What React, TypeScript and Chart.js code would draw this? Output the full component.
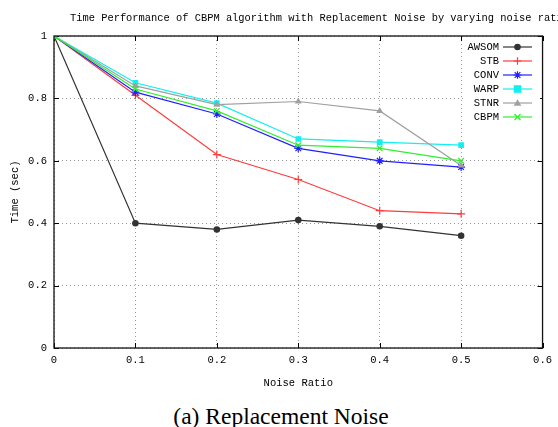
import React, { useEffect, useRef } from 'react';
import { Chart, registerables } from 'chart.js';
Chart.register(...registerables);

const titleText = 'Time Performance of CBPM algorithm with Replacement Noise by varying noise ratio';
const xTitle = 'Noise Ratio';
const yTitle = 'Time (sec)';
const caption = '(a) Replacement Noise';

const noiseRatios = [0, 0.1, 0.2, 0.3, 0.4, 0.5];
const awsom = [1, 0.4, 0.38, 0.41, 0.39, 0.36];
const stb = [1, 0.81, 0.62, 0.54, 0.44, 0.43];
const conv = [1, 0.82, 0.75, 0.64, 0.6, 0.58];
const warp = [1, 0.85, 0.785, 0.67, 0.66, 0.65];
const stnr = [1, 0.84, 0.78, 0.79, 0.76, 0.585];
const cbpm = [1, 0.83, 0.76, 0.65, 0.64, 0.6];

const seriesNames = ['AWSOM', 'STB', 'CONV', 'WARP', 'STNR', 'CBPM'];
const seriesValues = [awsom, stb, conv, warp, stnr, cbpm];
const seriesColors = ['#333333', '#ff3b3b', '#2020ff', '#10f0f0', '#a0a0a0', '#30ee30'];
const seriesMarkers = ['circle', 'cross', 'star', 'rect', 'triangle', 'crossRot'];
const seriesMarkerFill = [true, false, false, true, true, false];

const xTickValues = [0, 0.1, 0.2, 0.3, 0.4, 0.5, 0.6];
const yTickValues = [0, 0.2, 0.4, 0.6, 0.8, 1];

const MONO = '"Liberation Mono", "DejaVu Sans Mono", monospace';

function drawMarker(ctx: CanvasRenderingContext2D, style: string, x: number, y: number, r: number, color: string) {
  ctx.save();
  ctx.strokeStyle = color;
  ctx.fillStyle = color;
  ctx.lineWidth = 1.2;
  ctx.beginPath();
  if (style === 'circle') {
    ctx.arc(x, y, r, 0, Math.PI * 2);
    ctx.fill();
  } else if (style === 'rect') {
    ctx.fillRect(x - r, y - r, 2 * r, 2 * r);
  } else if (style === 'triangle') {
    ctx.moveTo(x, y - r);
    ctx.lineTo(x + r, y + r * 0.75);
    ctx.lineTo(x - r, y + r * 0.75);
    ctx.closePath();
    ctx.fill();
  } else if (style === 'cross') {
    ctx.moveTo(x - r, y); ctx.lineTo(x + r, y);
    ctx.moveTo(x, y - r); ctx.lineTo(x, y + r);
    ctx.stroke();
  } else if (style === 'crossRot') {
    const d = r * 0.8;
    ctx.moveTo(x - d, y - d); ctx.lineTo(x + d, y + d);
    ctx.moveTo(x + d, y - d); ctx.lineTo(x - d, y + d);
    ctx.stroke();
  } else if (style === 'star') {
    const d = r * 0.75;
    ctx.moveTo(x - r, y); ctx.lineTo(x + r, y);
    ctx.moveTo(x, y - r); ctx.lineTo(x, y + r);
    ctx.moveTo(x - d, y - d); ctx.lineTo(x + d, y + d);
    ctx.moveTo(x + d, y - d); ctx.lineTo(x - d, y + d);
    ctx.stroke();
  }
  ctx.restore();
}

const framePlugin = {
  id: 'frame',
  beforeDatasetsDraw(chart: any) {
    const { ctx, chartArea: a } = chart;
    ctx.save();
    ctx.fillStyle = '#000';
    ctx.font = `10.4px ${MONO}`;
    ctx.textAlign = 'left';
    ctx.textBaseline = 'middle';
    ctx.fillText(titleText, 70, 18);
    ctx.font = `10.5px ${MONO}`;
    ctx.textAlign = 'center';
    ctx.fillText(xTitle, (a.left + a.right) / 2, 383);
    ctx.save();
    ctx.translate(15, (a.top + a.bottom) / 2);
    ctx.rotate(-Math.PI / 2);
    ctx.fillText(yTitle, 0, 0);
    ctx.restore();
    const xs = chart.scales.x;
    const ys = chart.scales.y;
    ctx.strokeStyle = '#000';
    ctx.lineWidth = 1;
    ctx.beginPath();
    xTickValues.forEach((v) => {
      const px = Math.round(xs.getPixelForValue(v)) + 0.5;
      ctx.moveTo(px, a.bottom); ctx.lineTo(px, a.bottom - 5);
      ctx.moveTo(px, a.top); ctx.lineTo(px, a.top + 5);
    });
    yTickValues.forEach((v) => {
      const py = Math.round(ys.getPixelForValue(v)) + 0.5;
      ctx.moveTo(a.left, py); ctx.lineTo(a.left + 5, py);
      ctx.moveTo(a.right, py); ctx.lineTo(a.right - 5, py);
    });
    ctx.stroke();
    ctx.fillStyle = '#fff';
    ctx.fillRect(464, 39, 76, 84);
    ctx.restore();
  },
  afterDatasetsDraw(chart: any) {
    const { ctx, chartArea: a } = chart;
    ctx.save();
    ctx.strokeStyle = '#111';
    ctx.lineWidth = 1.3;
    ctx.strokeRect(a.left, a.top, a.right - a.left, a.bottom - a.top);
    ctx.font = `10.5px ${MONO}`;
    ctx.textAlign = 'right';
    ctx.textBaseline = 'middle';
    seriesNames.forEach((name, i) => {
      const y = 47 + i * 14;
      ctx.fillStyle = '#000';
      ctx.fillText(name, 499, y);
      ctx.strokeStyle = seriesColors[i];
      ctx.lineWidth = 1.2;
      ctx.beginPath();
      ctx.moveTo(503, y); ctx.lineTo(532, y);
      ctx.stroke();
      drawMarker(ctx, seriesMarkers[i], 517.5, y, seriesMarkers[i] === 'circle' ? 3.3 : 3.8, seriesColors[i]);
    });
    ctx.restore();
  },
};

export default function App() {
  const ref = useRef<HTMLCanvasElement | null>(null);
  useEffect(() => {
    if (!ref.current) return;
    const datasets = seriesNames.map((name, i) => ({
      label: name,
      data: noiseRatios.map((x, j) => ({ x, y: seriesValues[i][j] })),
      borderColor: seriesColors[i],
      backgroundColor: seriesMarkerFill[i] ? seriesColors[i] : 'transparent',
      pointBorderColor: seriesColors[i],
      pointBackgroundColor: seriesColors[i],
      pointStyle: seriesMarkers[i],
      pointRadius: seriesMarkers[i] === 'circle' ? 3.3 : 4,
      pointBorderWidth: seriesMarkerFill[i] ? 0 : 1.2,
      borderWidth: 1.2,
      tension: 0,
      fill: false,
      order: seriesNames.length - i,
    }));
    const chart = new Chart(ref.current, {
      type: 'line',
      data: { datasets },
      options: {
        animation: false,
        responsive: false,
        devicePixelRatio: 1,
        layout: { padding: { left: 0, right: 14, top: 36, bottom: 0 } },
        plugins: { legend: { display: false }, tooltip: { enabled: false }, title: { display: false } },
        scales: {
          x: {
            type: 'linear',
            min: 0,
            max: 0.6,
            afterFit: (s: any) => { s.height = 52; },
            afterBuildTicks: (s: any) => { s.ticks = xTickValues.map((v) => ({ value: v })); },
            ticks: {
              color: '#000',
              font: { family: MONO, size: 10.5 },
              padding: 6,
              maxRotation: 0,
              callback: (v: any) => String(Number(v).toFixed(1)).replace(/^0\.0$/, '0'),
            },
            grid: { color: '#999', lineWidth: 1, drawTicks: false },
            border: { display: false, dash: [1, 3] },
          },
          y: {
            type: 'linear',
            min: 0,
            max: 1,
            afterFit: (s: any) => { s.width = 54; },
            afterBuildTicks: (s: any) => { s.ticks = yTickValues.map((v) => ({ value: v })); },
            ticks: {
              color: '#000',
              font: { family: MONO, size: 10.5 },
              padding: 7,
              callback: (v: any) => (v === 0 ? '0' : v === 1 ? '1' : Number(v).toFixed(1)),
            },
            grid: { color: '#999', lineWidth: 1, drawTicks: false },
            border: { display: false, dash: [1, 3] },
          },
        },
      },
      plugins: [framePlugin],
    });
    return () => chart.destroy();
  }, []);
  return (
    <div style={{ position: 'absolute', left: 0, top: 0, width: 558, height: 427, background: '#fff', overflow: 'hidden' }}>
      <canvas ref={ref} width={558} height={400} style={{ display: 'block', width: 558, height: 400 }} />
      <div
        style={{
          position: 'absolute',
          left: 0,
          width: 562,
          top: 403,
          textAlign: 'center',
          fontFamily: '"Liberation Serif", "Times New Roman", serif',
          fontSize: 23.5,
          lineHeight: '26px',
          color: '#000',
          whiteSpace: 'nowrap',
        }}
      >
        {caption}
      </div>
    </div>
  );
}
